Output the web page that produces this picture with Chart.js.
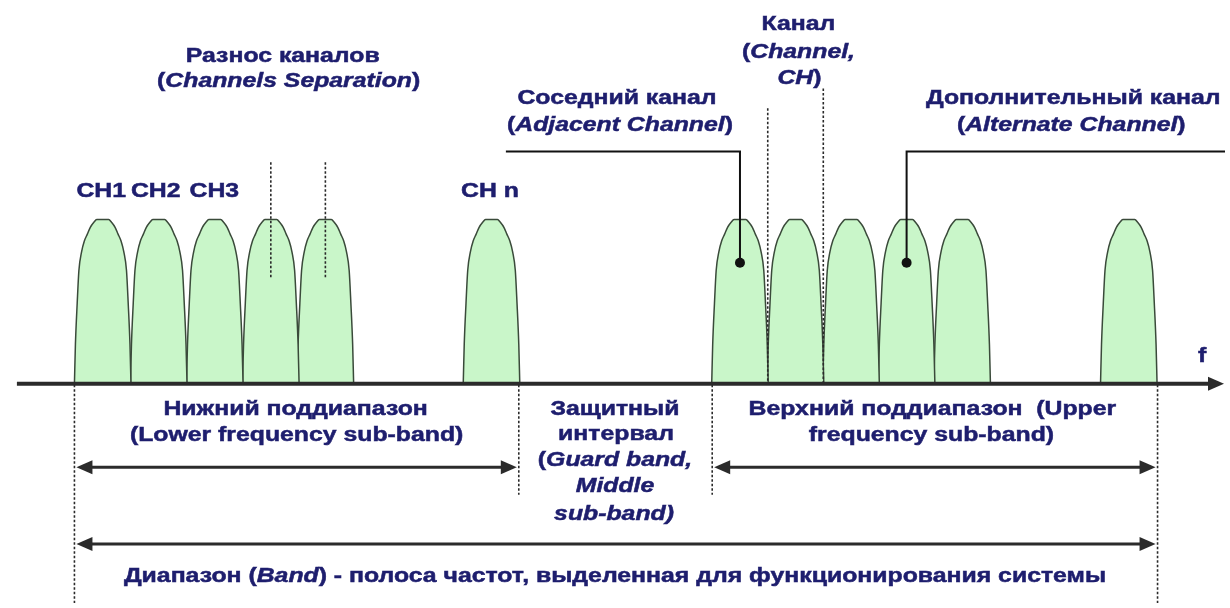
<!DOCTYPE html>
<html lang="ru">
<head>
<meta charset="utf-8">
<title>Диапазон частот</title>
<script src="https://cdn.jsdelivr.net/npm/chart.js@4.4.0/dist/chart.umd.min.js"></script>
<style>
    html, body { margin: 0; padding: 0; background: #fff; }
    #wrap { width: 1230px; height: 608px; position: relative; }
</style>
</head>
<body>
<div id="wrap"><canvas id="bandChart"></canvas></div>
<script>
// Channel centre frequencies (x units)
const lowerChannels = [98.5, 155, 211.5, 268, 323, 490.5];
const upperChannels = [741, 797, 853, 909, 965, 1133];

// One channel mask: offset from centre / level above the f axis
const profileOffset = [-28.5, -27.5, -25.7, -24, -21.3, -18.5, -15.5, -12.5, -9, -6, 6, 9, 12.5, 15.5, 18.5, 21.3, 24, 25.7, 27.5, 28.5];
const profileLevel = [0, 40, 82, 115, 134, 145, 152, 159, 164, 167, 167, 164, 159, 152, 145, 134, 115, 82, 40, 0];

// Adjacent / alternate channel markers
const markedX = [741, 909];
const markedLevel = [123, 123];

// Band borders
const bandStart = 70;
const lowerEnd = 518;
const upperStart = 713;
const bandEnd = 1162;

(function () {
    const ink = "#1e1e6e";
    const fontFamily = "'Liberation Sans', Arial, sans-serif";
    const fontSize = 20;
    const stretch = 1.24;

    function channelData(centre) {
        return profileOffset.map((dx, i) => ({ x: centre + dx, y: profileLevel[i] }));
    }

    const datasets = [];
    lowerChannels.concat(upperChannels).forEach(c => {
        datasets.push({
            data: channelData(c),
            order: 2,
            fill: "origin",
            backgroundColor: "#c9f6c9",
            borderColor: "#3a4a3a",
            borderWidth: 1.5,
            pointRadius: 0,
            cubicInterpolationMode: "monotone"
        });
    });

    // leader lines (drawn above the channels)
    datasets.push({
        data: [{ x: 505, y: 236 }, { x: markedX[0], y: 236 }, { x: markedX[0], y: markedLevel[0] }],
        order: 1, fill: false, borderColor: "#111", borderWidth: 2, pointRadius: 0, tension: 0
    });
    datasets.push({
        data: [{ x: markedX[1], y: markedLevel[1] }, { x: markedX[1], y: 236 }, { x: 1230, y: 236 }],
        order: 1, fill: false, borderColor: "#111", borderWidth: 2, pointRadius: 0, tension: 0
    });
    datasets.push({
        data: markedX.map((x, i) => ({ x: x, y: markedLevel[i] })),
        order: 0, showLine: false, pointRadius: 5, pointBackgroundColor: "#111", pointBorderWidth: 0
    });

    // text: [x, level, runs]  run = [text, italic]
    const labels = [
        [280, 333, [["Разнос каналов", false]]],
        [286, 307, [["(", false], ["Channels Separation", true], [")", false]]],
        [97, 195, [["CH1", false]]],
        [152, 195, [["CH2", false]]],
        [211, 195, [["CH3", false]]],
        [489, 195, [["CH n", false]]],
        [800, 365, [["Канал", false]]],
        [800, 337, [["(", false], ["Channel,", true]]],
        [801, 310, [["CH", true], [")", false]]],
        [617, 290, [["Соседний канал", false]]],
        [620, 262, [["(", false], ["Adjacent Channel", true], [")", false]]],
        [1077, 290, [["Дополнительный канал", false]]],
        [1075, 262, [["(", false], ["Alternate Channel", true], [")", false]]],
        [1207, 28, [["f", false]]],
        [293, -26, [["Нижний поддиапазон", false]]],
        [294, -53, [["(Lower frequency sub-band)", false]]],
        [615, -26, [["Защитный", false]]],
        [616, -52, [["интервал", false]]],
        [615, -78, [["(", false], ["Guard band,", true]]],
        [615, -105, [["Middle", true]]],
        [614, -133, [["sub-band)", true]]],
        [935, -26, [["Верхний поддиапазон  (Upper", false]]],
        [934, -53, [["frequency sub-band)", false]]],
        [615, -196, [["Диапазон (", false], ["Band", true], [") - полоса частот, выделенная для функционирования системы", false]]]
    ];

    function drawRuns(ctx, runs, x, y) {
        ctx.save();
        ctx.translate(x, y);
        ctx.scale(stretch, 1);
        ctx.textAlign = "left";
        ctx.textBaseline = "middle";
        ctx.fillStyle = ink;
        ctx.strokeStyle = ink;
        ctx.lineWidth = 0.5;
        let total = 0;
        runs.forEach(r => {
            ctx.font = (r[1] ? "italic " : "") + "bold " + fontSize + "px " + fontFamily;
            total += ctx.measureText(r[0]).width;
        });
        let cx = -total / 2;
        runs.forEach(r => {
            ctx.font = (r[1] ? "italic " : "") + "bold " + fontSize + "px " + fontFamily;
            ctx.fillText(r[0], cx, 0);
            ctx.strokeText(r[0], cx, 0);
            cx += ctx.measureText(r[0]).width;
        });
        ctx.restore();
    }

    function dashed(ctx, x, y1, y2) {
        ctx.save();
        ctx.strokeStyle = "#2a2a2a";
        ctx.lineWidth = 1.6;
        ctx.setLineDash([2.5, 2]);
        ctx.beginPath();
        ctx.moveTo(x, y1);
        ctx.lineTo(x, y2);
        ctx.stroke();
        ctx.restore();
    }

    function head(ctx, x, y, dir, len, half) {
        ctx.beginPath();
        ctx.moveTo(x, y);
        ctx.lineTo(x - dir * len, y - half);
        ctx.lineTo(x - dir * len, y + half);
        ctx.closePath();
        ctx.fill();
    }

    function arrow(ctx, x1, x2, y, both, width) {
        ctx.save();
        ctx.strokeStyle = "#2b2b2b";
        ctx.fillStyle = "#2b2b2b";
        ctx.lineWidth = width;
        ctx.beginPath();
        ctx.moveTo(x1 + (both ? 10 : 0), y);
        ctx.lineTo(x2 - 10, y);
        ctx.stroke();
        head(ctx, x2, y, 1, 16, 7);
        if (both) head(ctx, x1, y, -1, 16, 7);
        ctx.restore();
    }

    const annotations = {
        id: "annotations",
        afterDatasetsDraw(chart) {
            const ctx = chart.ctx;
            const sx = chart.scales.x;
            const sy = chart.scales.y;
            const X = v => sx.getPixelForValue(v);
            const Y = v => sy.getPixelForValue(v);

            // f axis
            arrow(ctx, X(12), X(1229), Y(0), false, 4);

            // dashed borders
            dashed(ctx, X(bandStart), Y(-1), Y(-223));
            dashed(ctx, X(bandEnd), Y(-1), Y(-223));
            dashed(ctx, X(lowerEnd), Y(-1), Y(-113));
            dashed(ctx, X(upperStart), Y(-1), Y(-113));

            // channel separation
            dashed(ctx, X(lowerChannels[3]), Y(225), Y(108));
            dashed(ctx, X(lowerChannels[4]), Y(225), Y(108));

            // channel width
            dashed(ctx, X((upperChannels[0] + upperChannels[1]) / 2), Y(280), Y(1));
            dashed(ctx, X((upperChannels[1] + upperChannels[2]) / 2), Y(300), Y(1));

            // sub-band and band arrows
            arrow(ctx, X(bandStart + 2), X(lowerEnd - 2), Y(-85), true, 3);
            arrow(ctx, X(upperStart + 2), X(bandEnd - 2), Y(-85), true, 3);
            arrow(ctx, X(bandStart + 2), X(bandEnd - 2), Y(-163), true, 3);

            labels.forEach(l => drawRuns(ctx, l[2], X(l[0]), Y(l[1])));
        }
    };

    new Chart(document.getElementById("bandChart"), {
        type: "line",
        data: { datasets: datasets },
        options: {
            responsive: true,
            maintainAspectRatio: false,
            animation: false,
            events: [],
            layout: { padding: 0 },
            plugins: {
                legend: { display: false },
                tooltip: { enabled: false }
            },
            scales: {
                x: { type: "linear", min: 0, max: 1230, display: false },
                y: { type: "linear", min: -223, max: 385, display: false }
            }
        },
        plugins: [annotations]
    });
})();
</script>
</body>
</html>
